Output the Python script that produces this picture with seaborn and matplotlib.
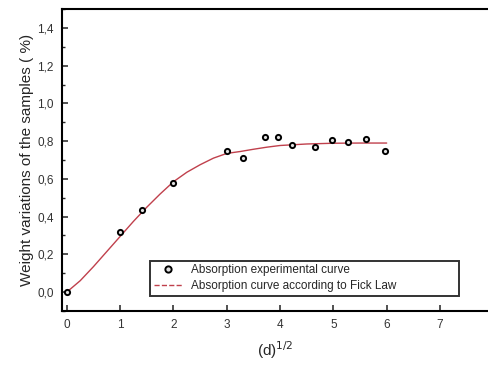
import numpy as np
import pandas as pd
import seaborn as sns
import matplotlib.pyplot as plt
from matplotlib.lines import Line2D
from matplotlib.ticker import MultipleLocator, FuncFormatter

sns.set_style("ticks")
plt.rcParams['font.family'] = ['Liberation Sans', 'DejaVu Sans']

# experimental points
exp_x = [0.0, 1.0, 1.41, 2.0, 3.0, 3.3, 3.72, 3.97, 4.23, 4.66, 4.98, 5.28, 5.62, 5.97]
exp_y = [0.0, 0.316, 0.433, 0.579, 0.750, 0.713, 0.823, 0.823, 0.777, 0.770, 0.805, 0.793, 0.814, 0.750]

# Fick law curve
fick_x = [0.0, 0.25, 0.5, 0.75, 1.0, 1.25, 1.5, 1.75, 2.0, 2.25, 2.5, 2.75, 3.0, 3.25, 3.5, 3.75, 4.0, 4.5, 5.0, 5.5, 6.0]
fick_y = [0.0, 0.06, 0.135, 0.215, 0.295, 0.375, 0.45, 0.52, 0.585, 0.635, 0.675, 0.71, 0.735, 0.745, 0.757, 0.768, 0.777, 0.785, 0.789, 0.79, 0.79]

exp = pd.DataFrame({"x": exp_x, "y": exp_y})
fick = pd.DataFrame({"x": fick_x, "y": fick_y})

fig = plt.figure(figsize=(4.89, 3.67), dpi=100)
ax = fig.add_axes([0.127, 0.153, 0.873, 0.822])

red = "#c0404c"
sns.lineplot(data=fick, x="x", y="y", ax=ax, color=red, linewidth=1.0)
sns.scatterplot(data=exp, x="x", y="y", ax=ax, marker="o", s=14, color="#e0e0e0",
                edgecolor="black", linewidth=1.4, zorder=3)

ax.set_xlim(-0.09, 7.92)
ax.set_ylim(-0.1, 1.5)
ax.set_xticks(range(0, 8))
ax.set_yticks([0.0, 0.2, 0.4, 0.6, 0.8, 1.0, 1.2, 1.4])
ax.yaxis.set_minor_locator(MultipleLocator(0.1))
ax.yaxis.set_major_formatter(FuncFormatter(lambda v, p: f"{v:.1f}".replace(".", ",")))
ax.tick_params(direction="in", length=4, width=1.2, labelsize=8.5, colors="#333333", pad=6)
ax.tick_params(which="minor", direction="in", length=2.5, width=1.0)
ax.spines["right"].set_visible(False)
for s in ["left", "bottom", "top"]:
    ax.spines[s].set_linewidth(1.5)
    ax.spines[s].set_color("black")

ax.set_xlabel("(d)$^{1/2}$", fontsize=11, labelpad=6)
ax.set_ylabel("Weight variations of the samples ( %)", fontsize=11, labelpad=2)

handles = [Line2D([], [], linestyle="none", marker="o", markersize=4.5,
                  markerfacecolor="#e0e0e0", markeredgecolor="black", markeredgewidth=1.4),
           Line2D([], [], color=red, linestyle="--", linewidth=1.0)]
labels = ["Absorption experimental curve", "Absorption curve according to Fick Law"]
leg = ax.legend(handles, labels, loc="lower left",
                bbox_to_anchor=(0.206, 0.05, 0.724, 0.139), mode="expand",
                fontsize=8.5, frameon=True, fancybox=False, edgecolor="black",
                borderpad=0.3, handlelength=2.4, labelspacing=0.35, borderaxespad=0)
leg.get_frame().set_linewidth(1.4)

fig.savefig("out.png", dpi=100)
